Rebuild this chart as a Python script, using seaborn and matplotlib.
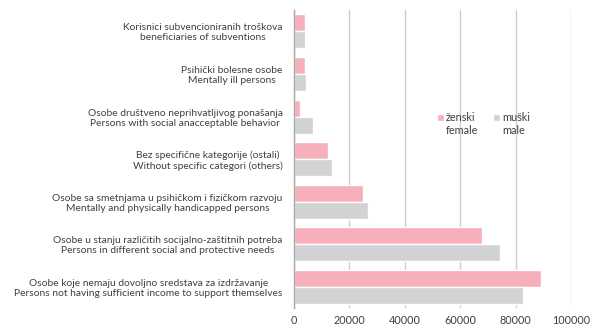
import matplotlib
matplotlib.use("Agg")
import matplotlib.pyplot as plt
import numpy as np
import pandas as pd
import seaborn as sns

categories = [
    "Korisnici subvencioniranih troškova\nbeneficiaries of subventions",
    "Psihički bolesne osobe\nMentally ill persons",
    "Osobe društveno neprihvatljivog ponašanja\nPersons with social anacceptable behavior",
    "Bez specifične kategorije (ostali)\nWithout specific categori (others)",
    "Osobe sa smetnjama u psihičkom i fizičkom razvoju\nMentally and physically handicapped persons",
    "Osobe u stanju različitih socijalno-zaštitnih potreba\nPersons in different social and protective needs",
    "Osobe koje nemaju dovoljno sredstava za izdržavanje\nPersons not having sufficient income to support themselves",
]
female = [4000, 4000, 2400, 12400, 25000, 67700, 89300]
male = [4000, 4450, 7000, 13800, 26900, 74200, 82600]
series = ["ženski", "muški"]
series_en = ["female", "male"]
x_ticks = [0, 20000, 40000, 60000, 80000, 100000]

df = pd.DataFrame({
    "category": categories * 2,
    "value": female + male,
    "sex": [series[0]] * len(categories) + [series[1]] * len(categories),
})

sns.set_theme(style="white")
plt.rcParams["font.family"] = ["Lato", "DejaVu Sans"]
text_color = "#404040"
fs = 7.8
fs_cat = 7.4

fig = plt.figure(figsize=(5.9, 3.27), dpi=100)
ax = fig.add_axes([0.498, 0.058, 0.47, 0.911])

sns.barplot(data=df, y="category", x="value", hue="sex", orient="h",
            order=categories, hue_order=series,
            palette=["#F6AFBB", "#D2D2D4"], width=0.8, saturation=1,
            ax=ax, legend=True)

ax.set_xlim(0, 100000)
ax.set_ylim(len(categories) - 0.5, -0.5)
ax.set_xticks(x_ticks)
ax.set_xticklabels([str(t) for t in x_ticks], fontsize=fs, color=text_color)
ax.xaxis.grid(True, color="#CFCFCF", linewidth=1)
ax.set_axisbelow(True)
ax.set_xlabel("")
ax.set_ylabel("")

for s in ["top", "right", "bottom"]:
    ax.spines[s].set_visible(False)
ax.spines["left"].set_color("#A8A8A8")
ax.spines["left"].set_linewidth(1)

ax.tick_params(axis="x", length=0, pad=5)
ax.tick_params(axis="y", which="major", length=0, pad=8,
               labelsize=fs_cat, labelcolor=text_color)
ax.set_yticks(np.arange(-0.5, len(categories), 1), minor=True)
ax.tick_params(axis="y", which="minor", length=4, color="#A8A8A8", width=1)
for lbl in ax.get_yticklabels():
    lbl.set_multialignment("center")
    lbl.set_linespacing(1.15)

handles, labels = ax.get_legend_handles_labels()
leg = ax.legend(handles, labels, loc="upper left", bbox_to_anchor=(0.5, 0.672),
                ncol=2, frameon=False, fontsize=fs, handlelength=0.65,
                handleheight=0.65, handletextpad=0.2, columnspacing=1.6,
                borderaxespad=0)
for t in leg.get_texts():
    t.set_color(text_color)

fig.canvas.draw()
inv = fig.transFigure.inverted()
for t, en in zip(leg.get_texts(), series_en):
    bb = t.get_window_extent()
    x0, y0 = inv.transform((bb.x0, bb.y0))
    fig.text(x0, y0 - 0.006, en, fontsize=fs, color=text_color,
             ha="left", va="top")

fig.savefig("out.png", dpi=100)
